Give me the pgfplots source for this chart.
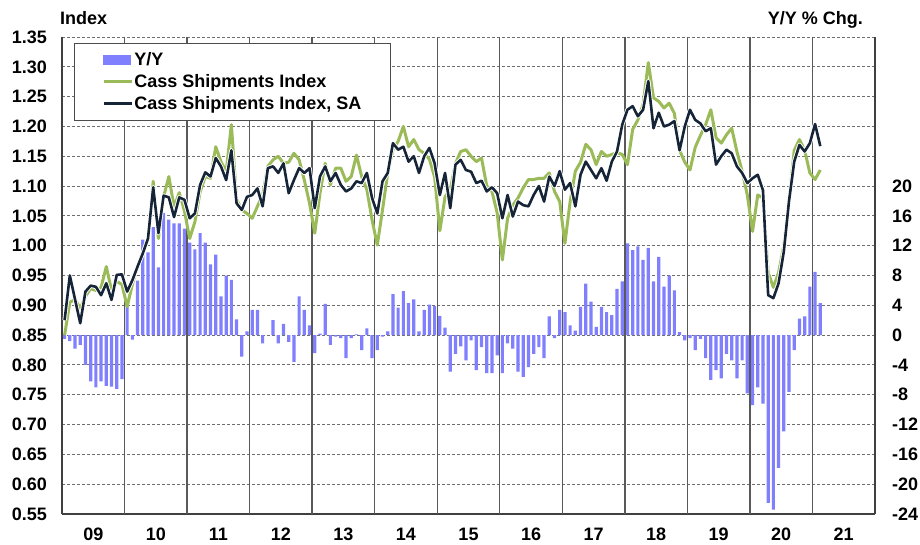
\documentclass[border=0pt]{standalone}
\usepackage{fontspec}
\setmainfont{Liberation Sans}
\usepackage{pgfplots}
\usepackage{pgfplotstable}
\pgfplotsset{compat=1.18}
\definecolor{barblue}{RGB}{128,128,255}
\definecolor{cassgreen}{RGB}{155,187,89}
\definecolor{cassnavy}{RGB}{22,36,56}
\definecolor{gridgray}{RGB}{110,110,110}
\newcommand{\chartfont}{\bfseries\fontsize{18}{20}\selectfont}

\pgfplotstableread{
i nsa sa yy
0 0.850 0.875 -0.5
1 0.905 0.950 -0.8
2 0.910 0.910 -1.8
3 0.895 0.870 -1.3
4 0.915 0.923 -4.0
5 0.928 0.933 -6.2
6 0.925 0.931 -7.0
7 0.930 0.917 -6.2
8 0.965 0.937 -6.8
9 0.925 0.909 -6.9
10 0.940 0.951 -7.2
11 0.935 0.952 -5.9
12 0.898 0.923 4.5
13 0.935 0.942 -0.6
14 0.965 0.965 7.3
15 0.990 0.987 12.8
16 1.012 1.012 11.1
17 1.108 1.098 14.5
18 1.012 1.021 9.1
19 1.082 1.084 16.4
20 1.116 1.081 15.5
21 1.065 1.048 15.0
22 1.089 1.081 15.0
23 1.058 1.077 14.3
24 1.012 1.046 12.4
25 1.040 1.054 11.5
26 1.090 1.102 13.7
27 1.116 1.123 12.4
28 1.113 1.116 9.5
29 1.166 1.147 10.8
30 1.141 1.133 5.2
31 1.124 1.110 8.0
32 1.203 1.160 7.4
33 1.078 1.071 2.1
34 1.060 1.060 -2.9
35 1.054 1.082 0.5
36 1.046 1.085 3.4
37 1.066 1.096 3.4
38 1.085 1.066 -1.1
39 1.133 1.130 0.0
40 1.144 1.133 2.0
41 1.150 1.122 -1.1
42 1.138 1.138 1.5
43 1.140 1.088 -0.9
44 1.155 1.110 -3.6
45 1.144 1.130 5.2
46 1.110 1.122 3.4
47 1.071 1.130 1.3
48 1.021 1.063 -2.4
49 1.088 1.116 0.2
50 1.138 1.133 4.2
51 1.102 1.108 -1.3
52 1.130 1.122 -0.2
53 1.130 1.102 -0.4
54 1.108 1.091 -3.1
55 1.116 1.096 -0.4
56 1.152 1.108 0.1
57 1.116 1.105 -2.0
58 1.094 1.122 0.9
59 1.043 1.080 -3.1
60 1.001 1.054 -2.0
61 1.060 1.108 -0.2
62 1.122 1.122 0.5
63 1.161 1.172 5.5
64 1.175 1.161 3.7
65 1.200 1.166 5.9
66 1.166 1.141 4.3
67 1.178 1.150 4.8
68 1.161 1.122 0.5
69 1.155 1.150 3.4
70 1.145 1.164 4.1
71 1.115 1.138 3.9
72 1.025 1.085 2.6
73 1.082 1.122 1.0
74 1.094 1.063 -4.9
75 1.138 1.136 -2.5
76 1.158 1.144 -1.5
77 1.161 1.127 -3.4
78 1.150 1.124 -0.7
79 1.141 1.105 -4.7
80 1.147 1.109 -1.6
81 1.100 1.091 -5.1
82 1.091 1.098 -5.1
83 1.055 1.088 -2.7
84 0.976 1.046 -5.1
85 1.046 1.085 -1.1
86 1.068 1.049 -1.8
87 1.080 1.074 -4.9
88 1.097 1.068 -5.6
89 1.111 1.066 -4.3
90 1.111 1.085 -2.5
91 1.113 1.100 -1.6
92 1.113 1.074 -3.1
93 1.122 1.116 2.5
94 1.091 1.100 -0.4
95 1.074 1.125 3.4
96 1.004 1.094 3.1
97 1.074 1.105 1.3
98 1.125 1.066 0.6
99 1.140 1.119 3.8
100 1.170 1.141 6.9
101 1.161 1.127 4.5
102 1.136 1.113 1.1
103 1.158 1.130 3.8
104 1.150 1.109 3.1
105 1.153 1.141 2.7
106 1.156 1.158 6.2
107 1.153 1.203 7.2
108 1.136 1.228 12.3
109 1.195 1.234 11.4
110 1.211 1.217 11.9
111 1.237 1.228 10.1
112 1.307 1.276 11.7
113 1.248 1.197 7.2
114 1.242 1.223 10.5
115 1.231 1.200 6.5
116 1.239 1.203 8.0
117 1.222 1.209 6.0
118 1.160 1.160 0.4
119 1.140 1.200 -0.7
120 1.127 1.228 -0.4
121 1.165 1.211 -2.0
122 1.185 1.205 -0.5
123 1.203 1.192 -3.1
124 1.228 1.197 -6.0
125 1.181 1.136 -4.7
126 1.172 1.150 -5.8
127 1.186 1.161 -2.5
128 1.197 1.155 -3.4
129 1.158 1.133 -5.8
130 1.125 1.122 -3.4
131 1.085 1.105 -7.8
132 1.024 1.113 -9.4
133 1.085 1.119 -7.0
134 1.080 1.093 -9.2
135 0.955 0.917 -22.5
136 0.930 0.912 -23.4
137 0.955 0.937 -17.8
138 1.000 0.990 -12.9
139 1.075 1.075 -7.6
140 1.160 1.141 -2.0
141 1.178 1.169 2.2
142 1.160 1.158 2.5
143 1.122 1.172 6.5
144 1.111 1.204 8.5
145 1.127 1.167 4.3
}\datatable

\begin{document}
\begin{tikzpicture}
\useasboundingbox (-62pt,-30pt) rectangle (858pt,514pt);
% bars and horizontal grid (right axis)
\begin{axis}[
  at={(0pt,0pt)}, anchor=south west,
  scale only axis, width=813pt, height=477pt,
  xmin=-0.5, xmax=155.5, ymin=-24, ymax=40,
  axis x line*=bottom, axis y line*=right,
  axis line style={-, draw=black!75, line width=1.3pt},
  xtick=\empty,
  ytick={-24,-20,...,40},
  yticklabels={-24,-20,-16,-12,-8,-4,0,4,8,12,16,20,{},{},{},{},{}},
  ymajorgrids,
  major grid style={dash pattern=on 3pt off 2pt, draw=gridgray, line width=0.9pt},
  major tick length=0pt,
  yticklabel style={font=\chartfont, anchor=west, inner sep=0pt, xshift=17pt},
]
\addplot[ybar, bar width=3.2pt, fill=barblue, draw=none] table[x=i, y=yy] {\datatable};
\end{axis}
% lines (left axis)
\begin{axis}[
  at={(0pt,0pt)}, anchor=south west,
  scale only axis, width=813pt, height=477pt,
  xmin=-0.5, xmax=155.5, ymin=0.55, ymax=1.35,
  axis x line*=bottom, axis y line*=left,
  axis line style={-, draw=black!75, line width=1.3pt},
  xtick={5.5,17.5,...,149.5},
  xticklabels={09,10,11,12,13,14,15,16,17,18,19,20,21},
  extra x ticks={11.5,23.5,...,143.5},
  extra x tick labels={},
  extra x tick style={grid=major, major grid style={solid, draw=black!65, line width=1.4pt}},
  ytick={0.55,0.60,0.65,0.70,0.75,0.80,0.85,0.90,0.95,1.00,1.05,1.10,1.15,1.20,1.25,1.30,1.35},
  /pgf/number format/assume math mode=true,
  yticklabel style={/pgf/number format/fixed, /pgf/number format/fixed zerofill, /pgf/number format/precision=2,
     font=\chartfont, anchor=east, inner sep=0pt, xshift=-15pt},
  xticklabel style={font=\chartfont, anchor=north, inner sep=0pt, yshift=-14pt},
  major tick length=0pt,
  legend image code/.code={\draw[#1] (0pt,0pt) -- (28pt,0pt);},
  legend style={font=\chartfont, draw=black!70, line width=0.8pt, fill=white,
     at={(0.01476,0.98742)}, anchor=north west, inner xsep=28pt, inner ysep=8pt,
     row sep=5.5pt, cells={anchor=west}, nodes={inner sep=1pt}},
]
\addlegendimage{legend image code/.code={\fill[barblue] (0pt,-4.5pt) rectangle (27pt,4.5pt);}}
\addlegendentry{Y/Y}
\addplot[cassgreen, line width=3pt, line join=round] table[x=i, y=nsa] {\datatable};
\addlegendentry{Cass Shipments Index}
\addplot[white, line width=4.4pt, line join=round, forget plot] table[x=i, y=sa] {\datatable};
\addplot[cassnavy, line width=2.6pt, line join=round] table[x=i, y=sa] {\datatable};
\addlegendentry{Cass Shipments Index, SA}
\end{axis}
\node[anchor=base west, inner sep=0pt, font=\chartfont] at (-2pt,489pt) {Index};
\node[anchor=base east, inner sep=0pt, font=\chartfont] at (801pt,489pt) {Y/Y \% Chg.};
\end{tikzpicture}
\end{document}
